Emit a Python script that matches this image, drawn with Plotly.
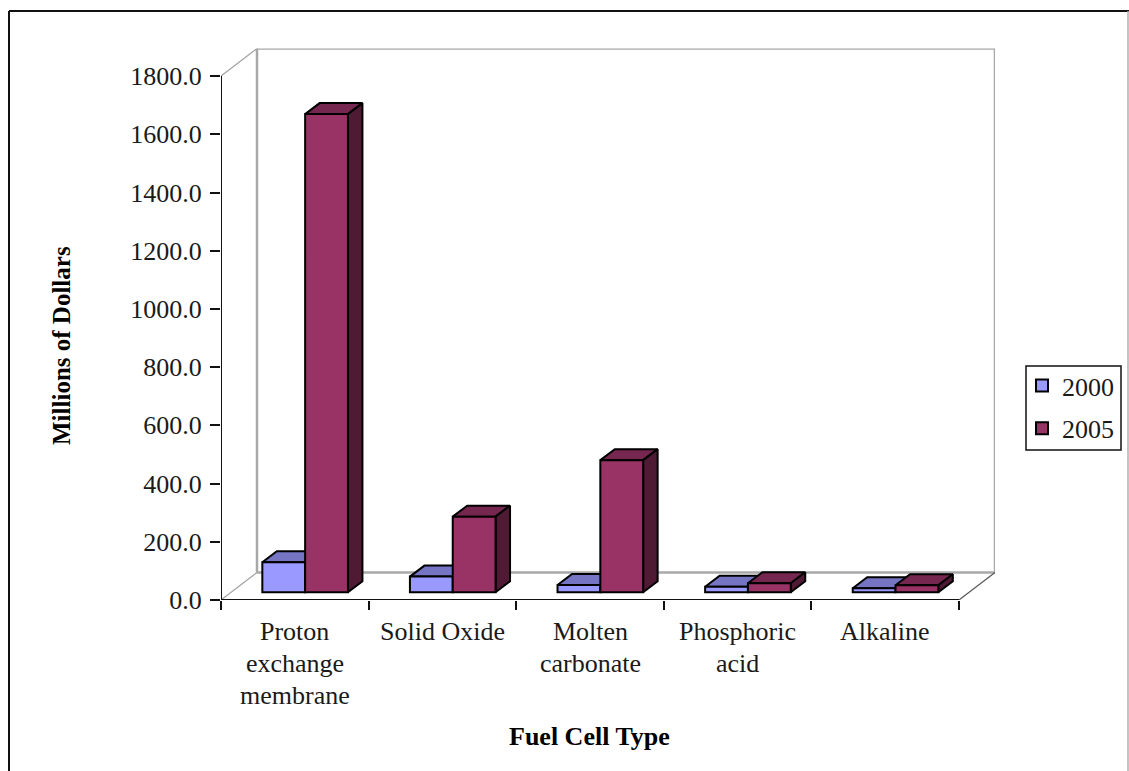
import plotly.graph_objects as go

# Market size by fuel cell type, millions of dollars
CATEGORY_LINES = [
    ["Proton", "exchange", "membrane"],
    ["Solid Oxide"],
    ["Molten", "carbonate"],
    ["Phosphoric", "acid"],
    ["Alkaline"],
]
VALUES_2000 = [103, 54, 25, 19, 14]
VALUES_2005 = [1643, 260, 454, 31, 24]
VALUE_TICKS = [0, 200, 400, 600, 800, 1000, 1200, 1400, 1600, 1800]

WIDTH, HEIGHT = 1129, 771
AXIS_LEFT, AXIS_BOTTOM = 221, 600
CATEGORY_PX = 147.6
VALUE_PX = 523.9 / 1800

# Oblique projection of the chart box and the bars, in axis units
WALL_DX = 36 / CATEGORY_PX
WALL_DY = 27.5 / VALUE_PX
BAR_DX = 14.5 / CATEGORY_PX
BAR_DY = 11 / VALUE_PX
BAR_LIFT = 7.7 / VALUE_PX
BAR_WIDTH = 0.29
BAR_START = 0.28

N = len(CATEGORY_LINES)
X_TOP = N + WALL_DX
Y_TOP = 1800 + WALL_DY

FONT = "Liberation Serif"
TEXT = "#1a1a1a"
LINE = "#111111"
WALL = "#a8a8a8"


def px_x(p):
    return p / WIDTH


def px_y(p):
    return 1 - p / HEIGHT


def top_faces(values, slot):
    xs, ys = [], []
    for i, v in enumerate(values):
        x0 = i + BAR_START + slot * BAR_WIDTH
        x1 = x0 + BAR_WIDTH
        y0 = BAR_LIFT + v
        xs += [x0, x1, x1 + BAR_DX, x0 + BAR_DX, x0, None]
        ys += [y0, y0, y0 + BAR_DY, y0 + BAR_DY, y0, None]
    return xs, ys


def side_faces(values, slot):
    xs, ys = [], []
    for i, v in enumerate(values):
        x1 = i + BAR_START + (slot + 1) * BAR_WIDTH
        y0 = BAR_LIFT + v
        xs += [x1, x1 + BAR_DX, x1 + BAR_DX, x1, x1, None]
        ys += [y0, y0 + BAR_DY, BAR_LIFT + BAR_DY, BAR_LIFT, y0, None]
    return xs, ys


def face(xs, ys, color, z):
    return go.Scatter(
        x=xs, y=ys, mode="lines", fill="toself", fillcolor=color,
        line=dict(color="black", width=2), showlegend=False,
        hoverinfo="skip", zorder=z,
    )


def front(values, slot, name, color, z):
    return go.Bar(
        x=[i + BAR_START + (slot + 0.5) * BAR_WIDTH for i in range(N)],
        y=values, base=BAR_LIFT, width=BAR_WIDTH, name=name, legendgroup=name,
        marker=dict(color=color, line=dict(color="black", width=2)),
        zorder=z,
    )


fig = go.Figure()
fig.add_trace(face(*top_faces(VALUES_2000, 0), "#7575c4", 1))
fig.add_trace(front(VALUES_2000, 0, "2000", "#9999ff", 2))
fig.add_trace(face(*top_faces(VALUES_2005, 1), "#76274f", 3))
fig.add_trace(face(*side_faces(VALUES_2005, 1), "#4e1a34", 3))
fig.add_trace(front(VALUES_2005, 1, "2005", "#993366", 4))

shapes = []


def seg(x0, y0, x1, y1, color, width):
    shapes.append(dict(
        type="line", xref="x", yref="y",
        x0=x0, y0=y0, x1=x1, y1=y1, layer="below",
        line=dict(color=color, width=width),
    ))


# Back wall, floor edges and the visible axis lines
seg(WALL_DX, WALL_DY, WALL_DX, Y_TOP, WALL, 2.5)
seg(WALL_DX, Y_TOP, X_TOP, Y_TOP, WALL, 2.5)
seg(X_TOP, WALL_DY, X_TOP, Y_TOP, WALL, 2.5)
seg(WALL_DX, WALL_DY, X_TOP, WALL_DY, WALL, 2.5)
seg(0, 1800, WALL_DX, Y_TOP, "#a0a0a0", 1.2)
seg(0, 0, WALL_DX, WALL_DY, "#a0a0a0", 1.2)
seg(N, 0, X_TOP, WALL_DY, "#555555", 1.2)
seg(0, 0, 0, 1800, LINE, 2)
seg(0, 0, N, 0, LINE, 2)

# Outer chart frame, open along the bottom edge
for a, b, c, d, color, w in [
    (9, 11, 9, 771, "#111111", 2),
    (9, 11, 1129, 11, "#111111", 2),
    (1128, 11, 1128, 771, "#b0b0b0", 1.5),
]:
    shapes.append(dict(
        type="line", xref="paper", yref="paper",
        x0=px_x(a), y0=px_y(b), x1=px_x(c), y1=px_y(d),
        line=dict(color=color, width=w),
    ))

# Legend frame
shapes.append(dict(
    type="rect", xref="paper", yref="paper",
    x0=px_x(1026), x1=px_x(1121), y0=px_y(366), y1=px_y(450),
    line=dict(color="#111111", width=1.5), fillcolor="white", layer="below",
))

annotations = []
for i, lines in enumerate(CATEGORY_LINES):
    for row, text in enumerate(lines):
        annotations.append(dict(
            x=i + 0.5, xref="x", y=px_y(631 + row * 32), yref="paper",
            text=text, showarrow=False, xanchor="center", yanchor="middle",
            font=dict(family=FONT, size=26, color=TEXT),
        ))
annotations.append(dict(
    x=px_x(589), xref="paper", y=px_y(736), yref="paper",
    xanchor="center", yanchor="middle",
    text="<b>Fuel Cell Type</b>", showarrow=False,
    font=dict(family=FONT, size=26, color="black"),
))
annotations.append(dict(
    x=px_x(62), xref="paper", y=px_y(346), yref="paper", textangle=-90,
    xanchor="center", yanchor="middle",
    text="<b>Millions of Dollars</b>", showarrow=False,
    font=dict(family=FONT, size=25, color="black"),
))

fig.update_layout(
    width=WIDTH, height=HEIGHT, autosize=False,
    margin=dict(l=0, r=0, t=0, b=0, pad=0),
    paper_bgcolor="white", plot_bgcolor="white",
    barmode="overlay", shapes=shapes, annotations=annotations,
    font=dict(family=FONT, size=26, color=TEXT),
    legend=dict(
        x=px_x(1022), xanchor="left", y=px_y(362), yanchor="top",
        bgcolor="rgba(0,0,0,0)", borderwidth=0, tracegroupgap=6,
        itemclick=False, font=dict(family=FONT, size=26, color=TEXT),
    ),
    xaxis=dict(
        domain=[px_x(AXIS_LEFT), px_x(AXIS_LEFT + CATEGORY_PX * X_TOP)],
        range=[0, X_TOP], tickvals=list(range(N + 1)), automargin=False,
        showticklabels=False, ticks="outside", ticklen=9, tickwidth=2,
        tickcolor=LINE, showgrid=False, zeroline=False, showline=False,
    ),
    yaxis=dict(
        domain=[px_y(AXIS_BOTTOM), px_y(AXIS_BOTTOM - VALUE_PX * Y_TOP)],
        range=[0, Y_TOP], tickvals=VALUE_TICKS, tickformat=".1f", automargin=False,
        ticks="outside", ticklen=10, tickwidth=2, tickcolor=LINE,
        ticklabelstandoff=3, showgrid=False, zeroline=False, showline=False,
        tickfont=dict(family=FONT, size=26, color=TEXT),
    ),
)

fig.write_html("out.html")
